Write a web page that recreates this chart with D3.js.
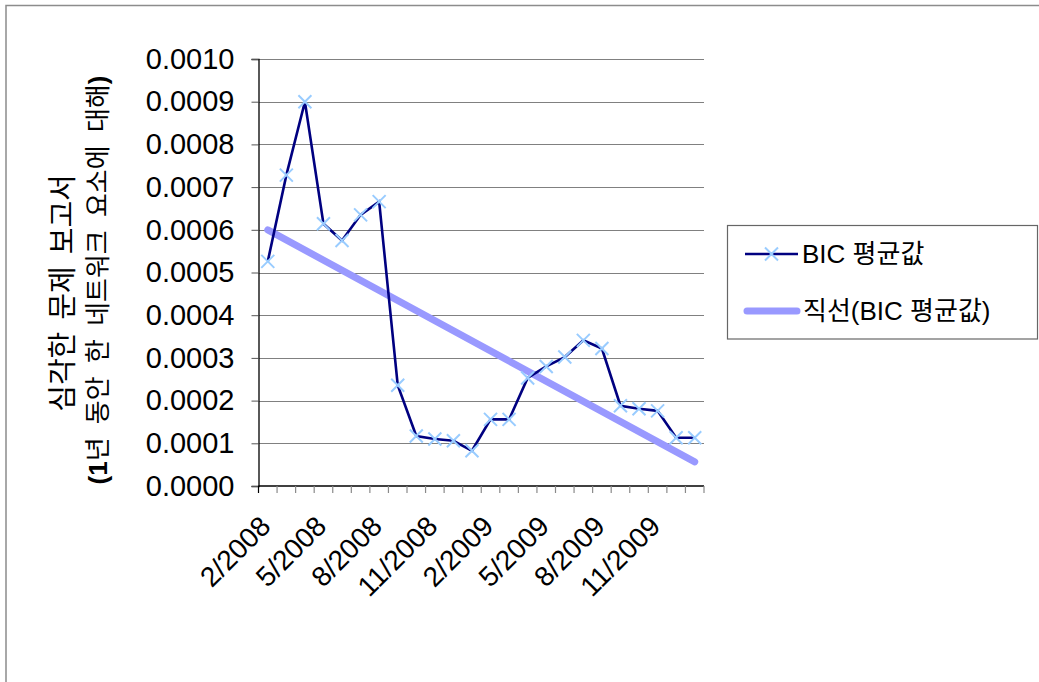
<!DOCTYPE html>
<html>
<head>
<meta charset="utf-8">
<script src="https://cdn.jsdelivr.net/npm/d3@7"></script>
<style>
  html, body { margin: 0; padding: 0; background: #fff; }
  svg { display: block; }
  text { font-family: "Liberation Sans", Arial, "Noto Sans CJK KR", sans-serif; fill: #000; }
</style>
</head>
<body>
<svg id="chart" width="1039" height="682"></svg>
<script>
// Monthly categories, Jan 2008 – Dec 2009
const months = [
  "1/2008","2/2008","3/2008","4/2008","5/2008","6/2008","7/2008","8/2008",
  "9/2008","10/2008","11/2008","12/2008","1/2009","2/2009","3/2009","4/2009",
  "5/2009","6/2009","7/2009","8/2009","9/2009","10/2009","11/2009","12/2009"
];
// Average BIC value per month
const bicAvg = [
  0.000526, 0.000728, 0.000900, 0.000614, 0.000575, 0.000635, 0.000666, 0.000236,
  0.000117, 0.000110, 0.000106, 0.0000825, 0.000156, 0.000156, 0.000253, 0.000280,
  0.000302, 0.000341, 0.000322, 0.000188, 0.000181, 0.000176, 0.000113, 0.000113
];
// Category labels shown on the x axis
const shownLabels = ["2/2008","5/2008","8/2008","11/2008","2/2009","5/2009","8/2009","11/2009"];
const yTicks = [0, 0.0001, 0.0002, 0.0003, 0.0004, 0.0005, 0.0006, 0.0007, 0.0008, 0.0009, 0.0010];
const seriesName = "BIC 평균값";
const trendName = "직선(BIC 평균값)";
const yTitleLine1 = "심각한 문제 보고서";
// Second title line split so the brackets and digit can be set in bold
const yTitleLine2 = [
  { t: "(1", bold: true }, { t: "년 동안 한 네트워크 요소에 대해", bold: false }, { t: ")", bold: true }
];

const svg = d3.select("#chart");
const plot = { left: 258.5, right: 704, top: 59, bottom: 486 };

const x = d3.scaleBand().domain(months).range([plot.left, plot.right]).paddingInner(0).paddingOuter(0);
const cx = d => x(d) + x.bandwidth() / 2;
const y = d3.scaleLinear().domain([0, 0.0010]).range([plot.bottom, plot.top]);

// Outer chart frame (top and left edges)
svg.append("path")
  .attr("d", `M6,682 L6,5.5 L1039,5.5`)
  .attr("fill", "none").attr("stroke", "#8c8c8c").attr("stroke-width", 1.5);

// Horizontal gridlines
svg.append("g").selectAll("line").data(yTicks.filter(t => t > 0)).join("line")
  .attr("x1", plot.left).attr("x2", plot.right)
  .attr("y1", d => Math.round(y(d)) + 0.5).attr("y2", d => Math.round(y(d)) + 0.5)
  .attr("stroke", "#808080").attr("stroke-width", 1.2);

// Y axis
const yAxis = d3.axisLeft(y).tickValues(yTicks).tickFormat(d3.format(".4f")).tickSize(7).tickPadding(17);
const gy = svg.append("g").attr("transform", `translate(${plot.left},0)`).call(yAxis);
gy.select(".domain").attr("stroke", "#000").attr("stroke-width", 1.3);
gy.selectAll(".tick line").attr("stroke", "#555");
gy.selectAll(".tick text").attr("font-size", 29).attr("font-family", "Liberation Sans, Arial, sans-serif").attr("fill", "#000");

// X axis with ticks on category boundaries
const gx = svg.append("g");
gx.append("line").attr("x1", plot.left).attr("x2", plot.right)
  .attr("y1", plot.bottom).attr("y2", plot.bottom).attr("stroke", "#000").attr("stroke-width", 1.3);
const boundaries = months.map(m => x(m)).concat([plot.right]);
gx.selectAll("line.tk").data(boundaries).join("line").attr("class", "tk")
  .attr("x1", d => d).attr("x2", d => d)
  .attr("y1", plot.bottom).attr("y2", plot.bottom + 7)
  .attr("stroke", (d, i) => i === 0 ? "#000" : "#8a8a8a").attr("stroke-width", 1.2);
gx.selectAll("text").data(shownLabels).join("text")
  .attr("transform", d => `translate(${cx(d) - 21},${521}) rotate(-45)`)
  .attr("text-anchor", "end").attr("dy", "0.35em")
  .attr("font-size", 28)
  .text(d => d);

// Y axis title (two rotated lines)
const gt = svg.append("g");
gt.append("text")
  .attr("transform", `translate(63,293) rotate(-90)`)
  .attr("text-anchor", "middle").attr("dy", "0.35em")
  .attr("font-size", 29).attr("word-spacing", 4)
  .text(yTitleLine1);
gt.append("text")
  .attr("transform", `translate(98,280) rotate(-90)`)
  .attr("text-anchor", "middle").attr("dy", "0.35em")
  .attr("font-size", 26).attr("word-spacing", 6)
  .selectAll("tspan").data(yTitleLine2).join("tspan")
  .attr("font-weight", d => d.bold ? "bold" : "normal")
  .text(d => d.t);

// Linear trendline (least squares fit over the monthly series)
const n = bicAvg.length;
const idx = d3.range(n);
const mx = d3.mean(idx), my = d3.mean(bicAvg);
const slope = d3.sum(idx, i => (i - mx) * (bicAvg[i] - my)) / d3.sum(idx, i => (i - mx) ** 2);
const intercept = my - slope * mx;
const trend = [0, n - 1].map(i => ({ m: months[i], v: intercept + slope * i }));
svg.append("path")
  .datum(trend)
  .attr("d", d3.line().x(d => cx(d.m)).y(d => y(d.v)))
  .attr("fill", "none").attr("stroke", "#9999ff").attr("stroke-width", 7).attr("stroke-linecap", "round");

// Data line
const pts = months.map((m, i) => ({ m, v: bicAvg[i] }));
svg.append("path")
  .datum(pts)
  .attr("d", d3.line().x(d => cx(d.m)).y(d => y(d.v)))
  .attr("fill", "none").attr("stroke", "#000080").attr("stroke-width", 2.6).attr("stroke-linejoin", "miter");

// X markers
const mk = 6.5;
const crossPath = (px, py) => `M${px - mk},${py - mk}L${px + mk},${py + mk}M${px - mk},${py + mk}L${px + mk},${py - mk}`;
svg.append("g").selectAll("path").data(pts).join("path")
  .attr("d", d => crossPath(cx(d.m), y(d.v)))
  .attr("stroke", "#99ccff").attr("stroke-width", 2).attr("fill", "none");

// Legend
const lg = svg.append("g");
lg.append("rect").attr("x", 727.5).attr("y", 225.5).attr("width", 310).attr("height", 113.5)
  .attr("fill", "#fff").attr("stroke", "#666").attr("stroke-width", 1.2);
lg.append("line").attr("x1", 745).attr("x2", 798).attr("y1", 254).attr("y2", 254)
  .attr("stroke", "#000080").attr("stroke-width", 2.6);
lg.append("path").attr("d", crossPath(771.5, 254)).attr("stroke", "#99ccff").attr("stroke-width", 2).attr("fill", "none");
lg.append("text").attr("x", 802).attr("y", 254).attr("dy", "0.35em").attr("font-size", 26).text(seriesName);
lg.append("line").attr("x1", 747).attr("x2", 797).attr("y1", 311).attr("y2", 311)
  .attr("stroke", "#9999ff").attr("stroke-width", 7).attr("stroke-linecap", "round");
lg.append("text").attr("x", 803).attr("y", 311).attr("dy", "0.35em").attr("font-size", 26).text(trendName);
</script>
</body>
</html>
